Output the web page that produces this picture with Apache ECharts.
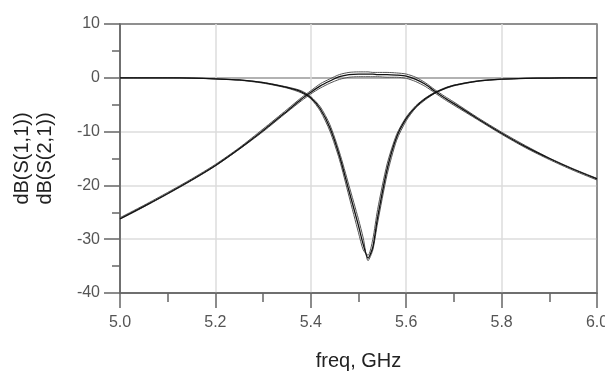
<!DOCTYPE html>
<html>
<head>
<meta charset="utf-8">
<script src="https://cdn.jsdelivr.net/npm/echarts@6/dist/echarts.min.js"></script>
<style>
  html, body { margin: 0; padding: 0; background: #fff; }
  #chart { width: 605px; height: 372px; }
</style>
</head>
<body>
<div id="chart"></div>
<script>
// frequency points (GHz), denser around the passband
const freq = [5.0, 5.05, 5.1, 5.15, 5.2, 5.25, 5.3, 5.35, 5.38, 5.4, 5.42, 5.44, 5.46, 5.48, 5.5, 5.51, 5.52,
  5.53, 5.54, 5.56, 5.58, 5.6, 5.62, 5.64, 5.66, 5.68, 5.7, 5.75, 5.8, 5.85, 5.9, 5.95, 6.0]

// dB(S(2,1)) - a few overlapping traces
const s21A = [-26.2, -23.9, -21.5, -19.0, -16.3, -13.2, -9.8, -6.2, -4.0, -2.7, -1.5, -0.6, 0.2, 0.6, 0.7, 0.7, 0.7,
  0.7, 0.6, 0.6, 0.5, 0.3, -0.3, -1.2, -2.5, -3.7, -4.8, -7.6, -10.3, -12.8, -15.0, -17.0, -18.8]
const s21B = [-26.0, -23.7, -21.3, -18.8, -16.1, -13.0, -9.5, -5.9, -3.7, -2.4, -1.1, -0.2, 0.6, 1.0, 1.1, 1.1, 1.1,
  1.0, 1.0, 1.0, 0.9, 0.7, 0.1, -0.9, -2.2, -3.4, -4.5, -7.4, -10.1, -12.6, -14.9, -16.9, -18.7]
const s21C = [-26.3, -24.0, -21.6, -19.1, -16.4, -13.3, -10.0, -6.4, -4.3, -3.0, -1.9, -1.0, -0.3, 0.1, 0.2, 0.2, 0.2,
  0.2, 0.2, 0.1, 0.1, -0.1, -0.7, -1.6, -2.8, -4.0, -5.1, -7.8, -10.5, -13.0, -15.2, -17.2, -19.0]

// dB(S(1,1))
const s11A = [0, 0, 0, -0.05, -0.2, -0.4, -0.9, -1.8, -2.6, -3.7, -5.8, -9.3, -14.5, -21.0, -27.5, -31.0, -33.5,
  -31.5, -26.0, -17.0, -11.0, -7.6, -5.4, -3.9, -2.8, -2.0, -1.4, -0.6, -0.25, -0.1, -0.05, 0, 0]
const s11B = [0, 0, 0, -0.05, -0.2, -0.45, -1.0, -1.9, -2.8, -3.9, -6.2, -9.9, -15.2, -22.0, -28.8, -32.0, -33.0,
  -30.0, -24.5, -16.0, -10.5, -7.3, -5.2, -3.75, -2.7, -1.9, -1.35, -0.55, -0.25, -0.1, -0.05, 0, 0]
const s11C = [0, 0, 0, -0.05, -0.2, -0.4, -0.85, -1.7, -2.4, -3.5, -5.4, -8.7, -13.8, -20.0, -26.3, -29.8, -34.0,
  -32.0, -27.0, -18.0, -11.6, -8.0, -5.6, -4.1, -2.9, -2.1, -1.5, -0.65, -0.3, -0.1, -0.05, 0, 0]

const xTicks = [5.0, 5.2, 5.4, 5.6, 5.8, 6.0]
const yTicks = [-40, -30, -20, -10, 0, 10]

const traces = [
  { name: 'S21 b', values: s21B, color: '#555', width: 1 },
  { name: 'S21 c', values: s21C, color: '#555', width: 1 },
  { name: 'S11 b', values: s11B, color: '#555', width: 1 },
  { name: 'S11 c', values: s11C, color: '#555', width: 1 },
  { name: 'S21', values: s21A, color: '#111', width: 1.3 },
  { name: 'S11', values: s11A, color: '#111', width: 1.3 }
]

const chart = echarts.init(document.getElementById('chart'))

const font = 'Liberation Sans, Arial, sans-serif'
const labelStyle = { color: '#555', fontSize: 16, fontFamily: font }

chart.setOption({
  animation: false,
  grid: {
    left: 120, right: 8, top: 24, bottom: 79,
    outerBoundsMode: 'none',
    containLabel: false,
    show: true, borderColor: '#888', borderWidth: 1.5
  },
  xAxis: {
    type: 'value',
    min: xTicks[0],
    max: xTicks[xTicks.length - 1],
    interval: 0.2,
    name: 'freq, GHz',
    nameLocation: 'middle',
    nameGap: 58,
    nameTextStyle: { color: '#222', fontSize: 20, fontFamily: font },
    axisLine: { onZero: false, lineStyle: { color: '#666', width: 1.5 } },
    axisTick: { show: true, length: 15, lineStyle: { color: '#666', width: 1.5 } },
    minorTick: { show: true, splitNumber: 2, length: 9, lineStyle: { color: '#666', width: 1.5 } },
    axisLabel: {
      ...labelStyle,
      margin: 22,
      formatter: v => v.toFixed(1)
    },
    splitLine: {
      show: true,
      lineStyle: { color: ['#888', '#ddd', '#ddd', '#ddd', '#ddd', '#888'], width: 1.5 }
    }
  },
  yAxis: {
    type: 'value',
    min: yTicks[0],
    max: yTicks[yTicks.length - 1],
    interval: 10,
    name: 'dB(S(1,1))\ndB(S(2,1))',
    nameLocation: 'middle',
    nameRotate: 90,
    nameGap: 63,
    nameTextStyle: { color: '#222', fontSize: 20, lineHeight: 23, fontFamily: font },
    axisLine: { show: true, onZero: false, lineStyle: { color: '#666', width: 1.5 } },
    axisTick: { show: true, length: 16, lineStyle: { color: '#666', width: 1.5 } },
    minorTick: { show: true, splitNumber: 2, length: 8, lineStyle: { color: '#666', width: 1.5 } },
    axisLabel: { ...labelStyle, margin: 20 },
    splitLine: {
      show: true,
      lineStyle: { color: ['#888', '#ddd', '#ddd', '#ddd', '#999', '#888'], width: 1.5 }
    }
  },
  series: traces.map(t => ({
    name: t.name,
    type: 'line',
    data: freq.map((f, i) => [f, t.values[i]]),
    showSymbol: false,
    smooth: 0.25,
    lineStyle: { color: t.color, width: t.width }
  }))
})
</script>
</body>
</html>
